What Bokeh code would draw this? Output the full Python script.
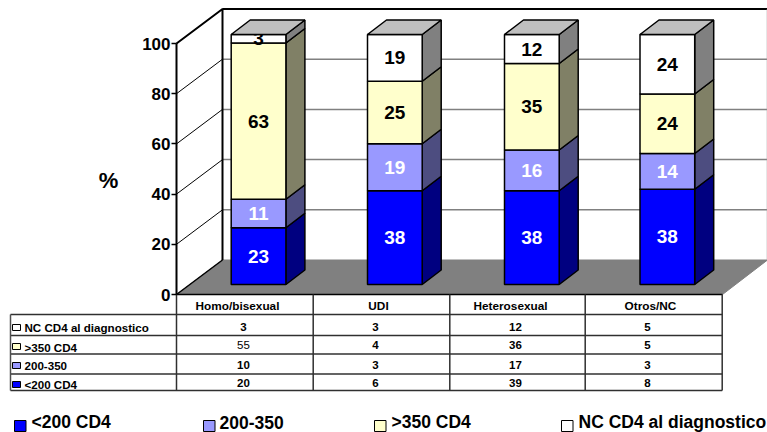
from bokeh.plotting import figure
from bokeh.models import Range1d, FixedTicker
from bokeh.core.properties import value
from bokeh.embed import file_html
from bokeh.resources import INLINE

categories = ["Homo/bisexual", "UDI", "Heterosexual", "Otros/NC"]
series = ["<200 CD4", "200-350", ">350 CD4", "NC CD4 al diagnostico"]
# bar heights, one list per series
low = [22.7, 37.5, 37.5, 38.1]
mid = [11.4, 18.8, 16.3, 14.3]
high = [62.5, 25.0, 34.6, 23.8]
nc = [3.4, 18.7, 11.6, 23.8]
heights = [low, mid, high, nc]
# printed bar labels
low_lab = ["23", "38", "38", "38"]
mid_lab = ["11", "19", "16", "14"]
high_lab = ["63", "25", "35", "24"]
nc_lab = ["3", "19", "12", "24"]
labels = [low_lab, mid_lab, high_lab, nc_lab]
# data table, top row first
table_names = ["NC CD4 al diagnostico", ">350 CD4", "200-350", "<200 CD4"]
t_nc = ["3", "3", "12", "5"]
t_high = ["55", "4", "36", "5"]
t_mid = ["10", "3", "17", "3"]
t_low = ["20", "6", "39", "8"]
table_rows = [t_nc, t_high, t_mid, t_low]
y_ticks = [0, 20, 40, 60, 80, 100]

front = ["#0000FF", "#9999FF", "#FFFFCC", "#FFFFFF"]
side = ["#000080", "#4D4D80", "#808066", "#808080"]
FONT = value("Liberation Sans")

# Scale of the page: x is in picture pixels; y is the percent scale of the axis
Y0, PX = 294.0, 2.51
def py(px):
    return (Y0 - px) / PX

p = figure(width=767, height=432, output_backend="svg", toolbar_location=None,
           x_range=Range1d(0, 767), y_range=Range1d(py(432), py(0)),
           x_axis_location=None, min_border=0, min_border_left=0, min_border_right=0,
           min_border_top=0, min_border_bottom=0, outline_line_color=None)
p.grid.visible = False
p.background_fill_color = "white"

AX_L, WALL_L, WALL_R, FLOOR_R = 176, 222, 767, 722
DEPTH = py(294 - 34.5)

# Walls, floor and grid
p.segment([WALL_L] * 5, [v + DEPTH for v in y_ticks[1:]], [WALL_R] * 5, [v + DEPTH for v in y_ticks[1:]],
          line_color="#808080", line_width=1.5)
p.segment([AX_L] * 5, y_ticks[1:], [WALL_L] * 5, [v + DEPTH for v in y_ticks[1:]],
          line_color="#000000", line_width=1)
p.patch([AX_L, WALL_L, WALL_R, FLOOR_R], [0, DEPTH, DEPTH, 0], fill_color="#808080", line_color="#808080", line_width=1)
p.line([AX_L, WALL_L, WALL_L], [100, 100 + DEPTH, DEPTH], line_color="black", line_width=2)
p.line([WALL_L, WALL_R], [100 + DEPTH, 100 + DEPTH], line_color="black", line_width=2)
p.line([AX_L, WALL_L], [0, DEPTH], line_color="black", line_width=1.5)
p.line([WALL_R, WALL_R], [DEPTH, 100 + DEPTH], line_color="#A0A0A0", line_width=1.5)
p.line([AX_L, FLOOR_R], [0, 0], line_color="black", line_width=1.5)

# Bars
BAR_X = [230.7, 367.0, 504.0, 639.5]
BAR_W, BAR_DX, BAR_DY = 54.7, 19.0, 14.5 / PX
BASE = 10 / PX
SCALE = 0.996
for i, x0 in enumerate(BAR_X):
    cum = 0.0
    x1 = x0 + BAR_W
    for s in range(4):
        a = BASE + cum * SCALE
        cum += heights[s][i]
        b = BASE + cum * SCALE
        p.patch([x1, x1 + BAR_DX, x1 + BAR_DX, x1], [a, a + BAR_DY, b + BAR_DY, b],
                fill_color=side[s], line_color="black", line_width=1.5)
        p.quad(left=x0, right=x1, bottom=a, top=b, fill_color=front[s], line_color="black", line_width=1.5)
        p.text([x0 + BAR_W / 2], [(a + b) / 2], text=[labels[s][i]],
               text_color="white" if s < 2 else "black", text_font=FONT, text_font_style="bold",
               text_font_size="19px", text_align="center", text_baseline="middle")
    p.patch([x0, x0 + BAR_DX, x1 + BAR_DX, x1], [b, b + BAR_DY, b + BAR_DY, b],
            fill_color="#BFBFBF", line_color="black", line_width=1.5)

# Axis
ax = p.yaxis[0]
ax.fixed_location = AX_L
ax.ticker = FixedTicker(ticks=y_ticks)
ax.bounds = (0, 100)
ax.axis_line_color = "black"
ax.axis_line_width = 2
ax.major_tick_line_color = "black"
ax.major_tick_line_width = 1.5
ax.major_tick_out = 5
ax.major_tick_in = 0
ax.minor_tick_out = 0
ax.minor_tick_in = 0
ax.major_label_standoff = 1
ax.major_label_text_font = "Liberation Sans"
ax.major_label_text_font_style = "bold"
ax.major_label_text_font_size = "17px"
ax.major_label_text_color = "black"

p.text([108], [py(180)], text=["%"], text_font=FONT, text_font_style="bold", text_font_size="22px",
       text_align="center", text_baseline="middle", text_color="black")

# Data table
ROW_Y = [314, 335, 353.5, 373.5, 390]
COL_X = [176, 312.7, 449.3, 584.7, 721.7]
TBL_L = 10
for k, y in enumerate(ROW_Y):
    p.line([TBL_L, COL_X[-1]], [py(y), py(y)], line_color="#303030", line_width=1.5)
p.line([TBL_L, TBL_L], [py(ROW_Y[0]), py(ROW_Y[-1])], line_color="#505050", line_width=1.5)
for x in COL_X:
    p.line([x, x], [0, py(ROW_Y[-1])], line_color="#303030", line_width=1.5)

HEAD_X = [237, 378, 510, 650]
p.text(HEAD_X, [py(305)] * 4, text=categories, text_font=FONT, text_font_style="bold", text_font_size="11.8px",
       text_align="center", text_baseline="middle", text_color="black")
KEY_Y = [327, 346, 365, 384]
TXT_Y = [327, 347, 365, 384]
VAL_Y = [326, 344, 364, 382]
VAL_X = [243, 375, 515, 647]
for r in range(4):
    s = 3 - r
    p.quad(left=12, right=20, bottom=py(KEY_Y[r] + 3), top=py(KEY_Y[r] - 3), fill_color=front[s],
           line_color="black", line_width=1)
    p.text([24], [py(TXT_Y[r])], text=[table_names[r]], text_font=FONT, text_font_style="bold",
           text_font_size="11.6px", text_align="left", text_baseline="middle", text_color="black")
    for c in range(4):
        normal = table_rows[r][c] == "55"
        p.text([VAL_X[c]], [py(VAL_Y[r])], text=[table_rows[r][c]], text_font=FONT,
               text_font_style="normal" if normal else "bold", text_font_size="11.5px",
               text_align="center", text_baseline="middle", text_color="black")

# Bottom legend
LEG_KEY = [14, 203, 374, 561]
LEG_TXT = [31, 219, 391, 578]
for s in range(4):
    p.quad(left=LEG_KEY[s], right=LEG_KEY[s] + 11.5, bottom=py(431), top=py(420), fill_color=front[s],
           line_color="black", line_width=1)
    p.text([LEG_TXT[s]], [py(421.5)], text=[series[s]], text_font=FONT, text_font_style="bold",
           text_font_size="17.5px", text_align="left", text_baseline="middle", text_color="black")

open("out.html", "w").write(file_html(p, INLINE))
